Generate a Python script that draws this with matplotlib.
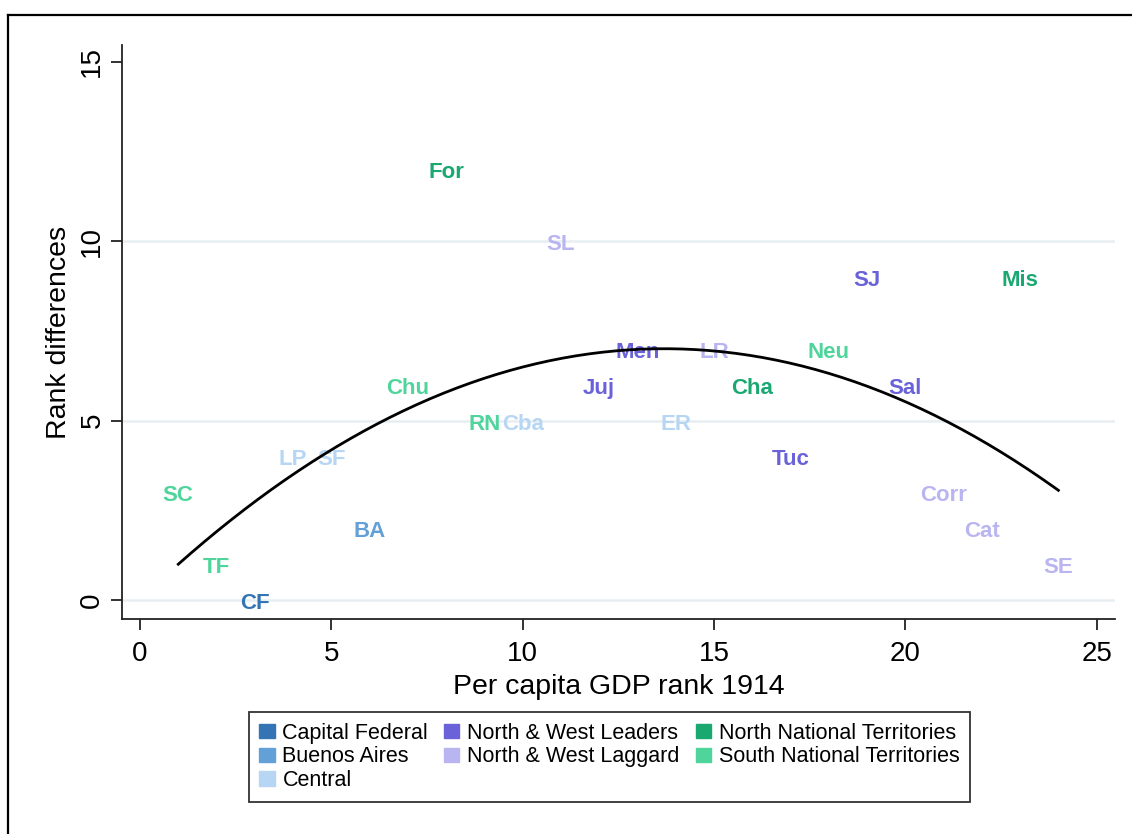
import numpy as np
import matplotlib
matplotlib.use("Agg")
import matplotlib.pyplot as plt
from matplotlib.patches import Patch
from matplotlib.lines import Line2D
from matplotlib.transforms import offset_copy

plt.rcParams['font.family'] = ['Liberation Sans', 'DejaVu Sans']

# provincias: rango PIB per capita 1914 vs diferencia de rangos
provs = ["SC", "TF", "CF", "LP", "SF", "BA", "Chu", "For", "RN", "Cba", "SL", "Juj",
         "Men", "ER", "LR", "Cha", "Tuc", "Neu", "SJ", "Sal", "Corr", "Cat", "Mis", "SE"]
rank1914 = [1, 2, 3, 4, 5, 6, 7, 8, 9, 10, 11, 12,
            13, 14, 15, 16, 17, 18, 19, 20, 21, 22, 23, 24]
rankdiff = [3, 1, 0, 4, 4, 2, 6, 12, 5, 5, 10, 6,
            7, 5, 7, 6, 4, 7, 9, 6, 3, 2, 9, 1]
grupo = [6, 6, 0, 2, 2, 1, 6, 5, 6, 2, 4, 3,
         3, 2, 4, 5, 3, 6, 3, 3, 4, 4, 5, 4]

grupos = ["Capital Federal", "Buenos Aires", "Central", "North & West Leaders",
          "North & West Laggard", "North National Territories", "South National Territories"]
colores = ["#3574b4", "#63a0d8", "#b6d6f3", "#6a62d8", "#b9b5f1", "#19a870", "#4fd49b"]

fig = plt.figure(figsize=(11.32, 8.34), dpi=100)
ax = fig.add_axes([0.1078, 0.2578, 0.8772, 0.6882])

# etiquetas como marcadores (un poco hacia abajo para centrar las mayusculas)
tr = offset_copy(ax.transData, fig=fig, x=0, y=-2.5, units='points')
for x, y, lab, g in zip(rank1914, rankdiff, provs, grupo):
    ax.text(x, y, lab, color=colores[g], fontsize=16, fontweight='bold',
            ha='center', va='center', zorder=3, transform=tr)

# ajuste cuadratico
c = np.polyfit(rank1914, rankdiff, 2)
xx = np.linspace(min(rank1914), max(rank1914), 200)
ax.plot(xx, np.polyval(c, xx), color='black', lw=2, zorder=4)

ax.set_xlim(-0.47, 25.48)
ax.set_ylim(-0.53, 15.47)
ax.set_xticks([0, 5, 10, 15, 20, 25])
ax.set_yticks([0, 5, 10, 15])
for yv in [0, 5, 10]:
    ax.axhline(yv, color='#e6eef2', lw=1.8, zorder=1)

for s in ['top', 'right']:
    ax.spines[s].set_visible(False)
for s in ['left', 'bottom']:
    ax.spines[s].set_linewidth(1.3)
    ax.spines[s].set_color('#222222')
ax.tick_params(axis='both', labelsize=20, length=8, width=1.3, color='#222222')
ax.tick_params(axis='x', pad=8)
ax.tick_params(axis='y', labelrotation=90, pad=4)
for t in ax.get_yticklabels():
    t.set_va('center')
ax.set_xlabel('Per capita GDP rank 1914', fontsize=20.5, labelpad=5)
ax.set_ylabel('Rank differences', fontsize=20.5, labelpad=5.5)

handles = [Patch(facecolor=cl, edgecolor=cl) for cl in colores]
leg = fig.legend(handles, grupos, loc='upper center', bbox_to_anchor=(0.5385, 0.1463),
                 ncol=3, fontsize=15.5, frameon=True, fancybox=False, edgecolor='black',
                 handlelength=0.7, handleheight=0.65, handletextpad=0.37,
                 columnspacing=0.75, labelspacing=0.12, borderpad=0.5, borderaxespad=0)
leg.get_frame().set_linewidth(1.3)

# marco exterior
fig.add_artist(Line2D([8 / 1132, 8 / 1132], [0, 1 - 15 / 834], color='black', lw=1.6))
fig.add_artist(Line2D([8 / 1132, 1], [1 - 15 / 834, 1 - 15 / 834], color='black', lw=1.6))

fig.savefig('out.png', dpi=100)
